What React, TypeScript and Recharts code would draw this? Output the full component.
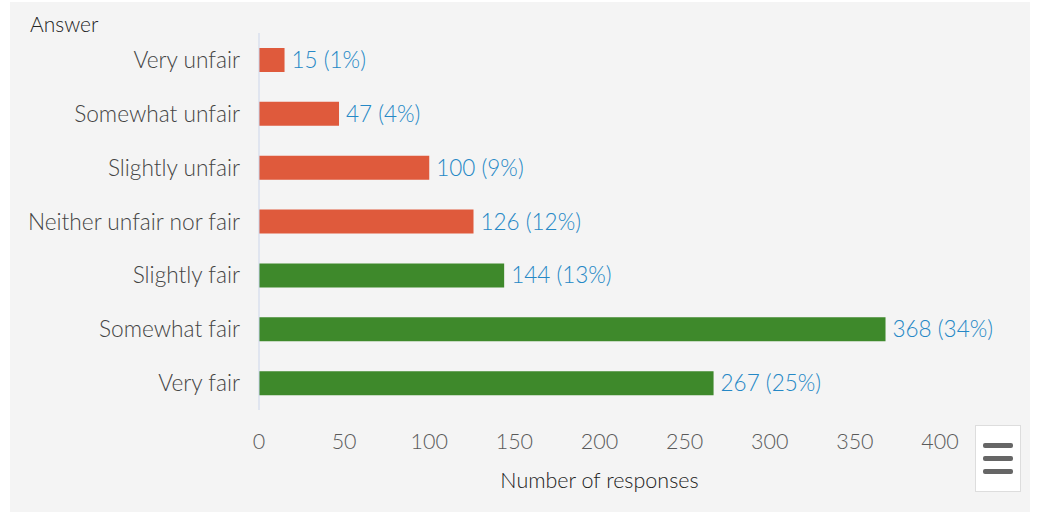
import { BarChart, Bar, XAxis, YAxis, LabelList } from "recharts";

const answers = [
  "Very unfair",
  "Somewhat unfair",
  "Slightly unfair",
  "Neither unfair nor fair",
  "Slightly fair",
  "Somewhat fair",
  "Very fair",
];
const responses = [15, 47, 100, 126, 144, 368, 267];
const percents = [1, 4, 9, 12, 13, 34, 25];
const fairness = ["unfair", "unfair", "unfair", "unfair", "fair", "fair", "fair"];
const xTicks = [0, 50, 100, 150, 200, 250, 300, 350, 400];

const RED = "#df5a3c";
const GREEN = "#3e892b";
const FONT = "Lato, 'Open Sans', sans-serif";

const data = answers.map((answer, i) => ({
  answer,
  count: responses[i],
  pct: percents[i],
  fill: fairness[i] === "fair" ? GREEN : RED,
  label: `${responses[i]} (${percents[i]}%)`,
}));

function MenuButton() {
  return (
    <div
      style={{
        position: "absolute",
        left: 975,
        top: 425,
        width: 46,
        height: 67,
        background: "#fff",
        border: "1px solid #ddd",
        boxSizing: "border-box",
        display: "flex",
        flexDirection: "column",
        justifyContent: "center",
        alignItems: "center",
        gap: 8,
      }}
    >
      {[0, 1, 2].map((k) => (
        <div key={k} style={{ width: 30, height: 5, borderRadius: 2, background: "#666" }} />
      ))}
    </div>
  );
}

export default function App() {
  return (
    <div style={{ position: "fixed", left: 0, top: 0, width: 1042, height: 518, background: "#fff", fontFamily: FONT, fontWeight: 300 }}>
      <div style={{ position: "absolute", left: 10, top: 2, width: 1020, height: 510, background: "#f4f4f4" }} />
      <div style={{ position: "absolute", left: 30, top: 11, fontSize: 21, color: "#222" }}>Answer</div>
      <div style={{ position: "absolute", left: 0, top: 0 }}>
        <BarChart
          width={1042}
          height={518}
          data={data}
          layout="vertical"
          margin={{ top: 33, right: 102, bottom: 0, left: 10 }}
          barCategoryGap={15}
        >
          <XAxis
            type="number"
            domain={[0, 400]}
            ticks={xTicks}
            axisLine={false}
            tickLine={false}
            height={108}
            tick={{ fill: "#5a5a5a", fontSize: 21.5, fontFamily: FONT, fontWeight: 300 }}
            tickMargin={18}
            label={{ value: "Number of responses", position: "insideBottom", offset: 30, fill: "#222", fontSize: 21.5, fontFamily: FONT, fontWeight: 300 }}
          />
          <YAxis
            type="category"
            dataKey="answer"
            width={249}
            axisLine={{ stroke: "#ccd6eb" }}
            tickLine={false}
            tickMargin={13}
            tick={{ fill: "#444", fontSize: 22.7, fontFamily: FONT, fontWeight: 300 }}
          />
          <Bar dataKey="count" isAnimationActive={false} barSize={24}>
            <LabelList dataKey="label" position="right" offset={7} fill="#2588c6" fontSize={22.5} fontFamily={FONT} fontWeight={300} />
          </Bar>
        </BarChart>
      </div>
      <MenuButton />
    </div>
  );
}
